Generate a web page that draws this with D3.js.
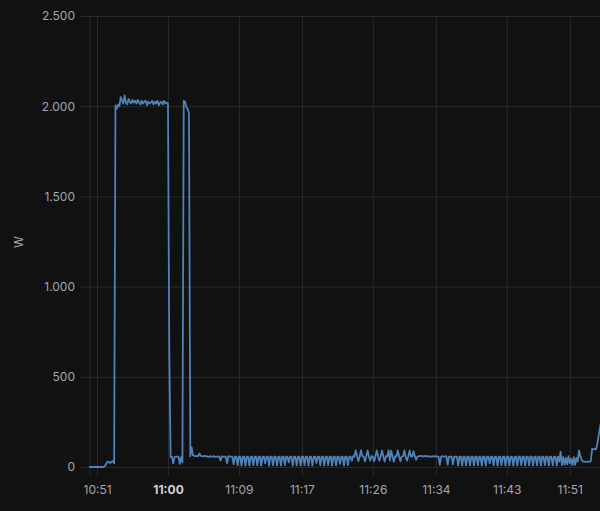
<!DOCTYPE html>
<html>
<head>
<meta charset="utf-8">
<script src="https://cdn.jsdelivr.net/npm/d3@7"></script>
<style>
  html, body { margin: 0; padding: 0; background: #111112; }
  svg text { font-family: Inter, "Noto Sans", sans-serif; }
</style>
</head>
<body>
<div id="chart"></div>
<script>
// power readings, one every 10 s starting 10:50:00 (one row = 2 minutes)
var sampleStart = new Date(2024, 0, 1, 10, 50, 0);
var sampleStepSec = 10;
var watts = [
  0, 0, 0, 0, 0, 0, 0, 0, 0, 0, 0, 0,
  5, 18, 30, 28, 22, 30, 32, 20, 2005, 1985, 2010, 2000,
  2050, 2030, 2015, 2060, 2020, 2010, 2040, 2025, 2015, 2035, 2020, 2030,
  2015, 2035, 2020, 2010, 2030, 2015, 2025, 2030, 2005, 2025, 2015, 2020,
  2030, 2010, 2025, 2015, 2030, 2005, 2020, 2025, 2010, 2030, 2015, 2020,
  2015, 640, 55, 57, 20, 55, 57, 58, 56, 18, 55, 25,
  2030, 2025, 1995, 1985, 1960, 60, 110, 65, 62, 60, 62, 60,
  75, 62, 60, 58, 62, 60, 58, 56, 60, 58, 57, 60,
  55, 58, 57, 58, 35, 60, 56, 58, 57, 20, 60, 58,
  57, 58, 15, 58, 57, 10, 57, 58, 8, 57, 58, 8,
  57, 58, 8, 56, 58, 10, 57, 57, 9, 58, 56, 8,
  57, 58, 20, 56, 58, 8, 57, 57, 9, 58, 56, 8,
  56, 58, 8, 57, 58, 10, 57, 56, 25, 58, 57, 8,
  57, 58, 9, 56, 58, 8, 57, 57, 10, 58, 56, 8,
  58, 57, 8, 57, 58, 22, 56, 57, 9, 58, 56, 8,
  57, 58, 10, 56, 58, 8, 57, 57, 9, 58, 56, 18,
  57, 58, 8, 57, 58, 10, 56, 58, 35, 60, 58, 92,
  60, 32, 58, 92, 60, 58, 30, 60, 92, 58, 35, 60,
  58, 32, 60, 92, 58, 35, 60, 92, 58, 30, 60, 58,
  92, 35, 90, 58, 30, 60, 58, 92, 60, 32, 58, 60,
  92, 58, 35, 58, 92, 60, 58, 88, 60, 40, 58, 60,
  60, 62, 58, 60, 62, 58, 60, 57, 59, 58, 60, 58,
  60, 58, 57, 12, 58, 60, 57, 58, 60, 12, 58, 57,
  58, 15, 58, 57, 58, 8, 57, 58, 8, 57, 58, 8,
  57, 58, 9, 56, 58, 8, 57, 57, 10, 58, 56, 8,
  58, 57, 8, 57, 58, 20, 56, 57, 9, 58, 56, 8,
  57, 58, 10, 56, 58, 8, 57, 57, 9, 58, 56, 8,
  56, 58, 8, 57, 58, 10, 57, 56, 8, 58, 57, 9,
  57, 58, 8, 56, 58, 9, 57, 57, 8, 58, 56, 10,
  58, 57, 8, 57, 58, 9, 56, 57, 8, 58, 30, 85,
  10, 55, 12, 50, 15, 60, 20, 45, 10, 55, 12, 50,
  30, 92, 60, 40, 30, 30, 28, 30, 28, 30, 32, 100,
  98, 100, 98, 130, 175, 220, 260
];

var timeTicks = [
  new Date(2024, 0, 1, 10, 51), new Date(2024, 0, 1, 11, 0),
  new Date(2024, 0, 1, 11, 9), new Date(2024, 0, 1, 11, 17),
  new Date(2024, 0, 1, 11, 26), new Date(2024, 0, 1, 11, 34),
  new Date(2024, 0, 1, 11, 43), new Date(2024, 0, 1, 11, 51)
];
var boldTick = "11:00";
var valueTicks = [0, 500, 1000, 1500, 2000, 2500];
var yLabel = "W";

var svgWidth = 600;
var svgHeight = 511;

var svg = d3.select("#chart")
  .append("svg")
  .attr("width", svgWidth)
  .attr("height", svgHeight)
  .style("display", "block")
  .style("background", "#111112");

// scales
var x = d3.scaleTime()
  .domain([new Date(2024, 0, 1, 10, 48, 50.5), new Date(2024, 0, 1, 11, 54, 50)])
  .range([80, 600]);

var y = d3.scaleLinear()
  .domain([0, 2500])
  .range([467, 16]);

var fmt = d3.formatLocale({ decimal: ",", thousands: ".", grouping: [3], currency: ["", "€"] }).format(",d");
var timeFmt = d3.timeFormat("%H:%M");

var gridColor = "#2a2a2d";

// horizontal grid
var leftAxis = d3.axisLeft(y)
  .tickValues(valueTicks)
  .tickSize(-520)
  .tickPadding(5)
  .tickFormat(fmt);

var yAxis = svg.append("g")
  .attr("transform", "translate(80,0)")
  .call(leftAxis);
yAxis.select(".domain").remove();
yAxis.selectAll(".tick line").attr("stroke", gridColor);
yAxis.selectAll(".tick text")
  .attr("fill", "#a5a5ab")
  .style("font-size", "12px");

// vertical grid + time labels
var bottomAxis = d3.axisBottom(x)
  .tickValues(timeTicks)
  .tickSize(-451 - 9)
  .tickPadding(16)
  .tickFormat(timeFmt);

var xAxis = svg.append("g")
  .attr("transform", "translate(0,476)")
  .call(bottomAxis);
xAxis.select(".domain").remove();
xAxis.selectAll(".tick line").attr("stroke", gridColor);
xAxis.selectAll(".tick text")
  .attr("fill", d => timeFmt(d) === boldTick ? "#d2d2d7" : "#a5a5ab")
  .style("font-weight", d => timeFmt(d) === boldTick ? "bold" : "normal")
  .style("font-size", "12px")
  .attr("dy", "0.35em")
  .attr("y", 14);

// left border of the plot
svg.append("line")
  .attr("x1", x(new Date(2024, 0, 1, 10, 50, 7)))
  .attr("x2", x(new Date(2024, 0, 1, 10, 50, 7)))
  .attr("y1", 16)
  .attr("y2", 476)
  .attr("stroke", gridColor);

// y axis title
svg.append("text")
  .attr("transform", "translate(19,242) rotate(-90)")
  .attr("text-anchor", "middle")
  .attr("dy", "0.35em")
  .attr("fill", "#a5a5ab")
  .style("font-size", "12px")
  .text(yLabel);

// series
var line = d3.line()
  .x((d, i) => x(new Date(sampleStart.getTime() + i * sampleStepSec * 1000)))
  .y(d => y(d));

svg.append("path")
  .datum(watts)
  .attr("fill", "none")
  .attr("stroke", "#4f82b8")
  .attr("stroke-width", 1.8)
  .attr("stroke-linejoin", "round")
  .attr("d", line);
</script>
</body>
</html>
